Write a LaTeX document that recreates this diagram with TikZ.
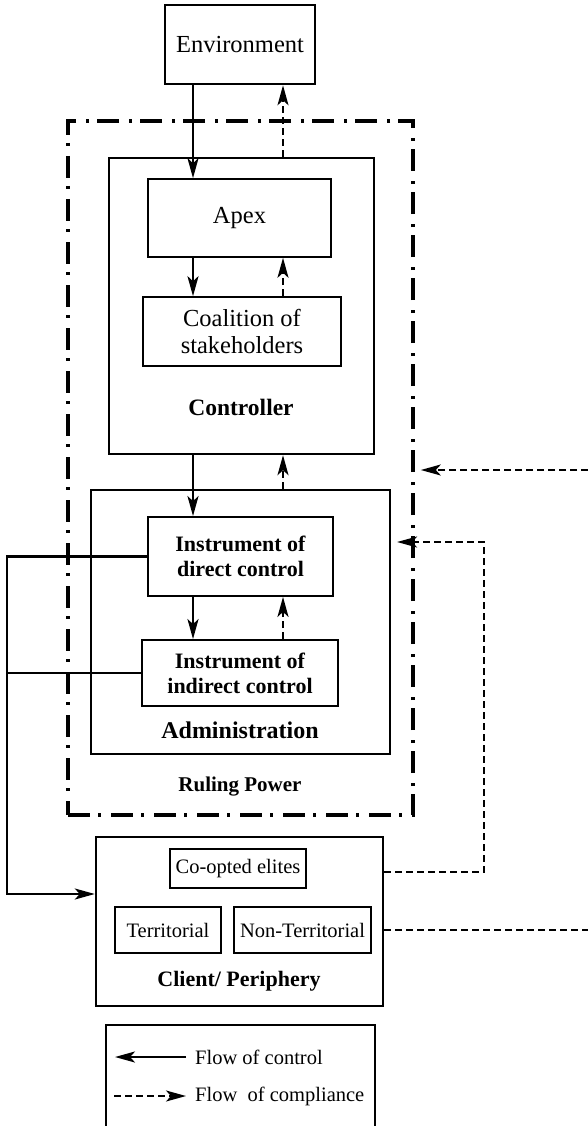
\documentclass[tikz,border=0pt]{standalone}
\usepackage{fontspec}
\setmainfont{Liberation Serif}
\usetikzlibrary{arrows.meta}
\begin{document}
\begin{tikzpicture}[x=1pt,y=-1pt,
  box/.style={draw,line width=1.6pt,inner sep=0pt,align=center},
  bigbox/.style={draw,line width=2.4pt,inner sep=0pt},
  dashdot/.style={draw,line width=3.6pt,dash pattern=on 22pt off 8pt on 3pt off 10pt,inner sep=0pt},
  lbl/.style={inner sep=0pt,font=\bfseries},
  ctrlflow/.style={line width=2.4pt,-{Stealth[length=20pt,width=11pt,inset=5pt]}},
  compflow/.style={line width=2pt,dash pattern=on 7pt off 4pt,-{Stealth[length=20pt,width=11pt,inset=5pt]}},
  plainline/.style={line width=2.4pt},
  bigtxt/.style={font=\fontsize{24.5}{27}\selectfont},
  smalltxt/.style={font=\fontsize{20.5}{23}\selectfont},
  boldtxt/.style={font=\fontsize{22}{25}\selectfont\bfseries}
]
\useasboundingbox (0,0) rectangle (588,1126);

% columns of the vertical flows
\coordinate (xl) at (193,0);
\coordinate (xr) at (283,0);

% outer frame and containers
\node[dashdot,minimum width=345pt,minimum height=694pt] (rp) at (240.5,468) {};
\node[bigbox,line width=2.6pt,minimum width=150pt,minimum height=79pt,bigtxt] (env) at (240,44.5) {Environment};
\node[bigbox,minimum width=265pt,minimum height=296pt] (ctrl) at (241.5,306) {};
\node[box,minimum width=183pt,minimum height=78pt,bigtxt] (apex) at (239.5,218) {Apex};
\node[box,minimum width=198pt,minimum height=69pt,bigtxt] (coal) at (242,331.5) {Coalition of\\stakeholders};
\node[lbl,font=\fontsize{23.5}{25}\selectfont\bfseries] (ctrllbl) at (241,407) {Controller};

\node[bigbox,line width=2.2pt,minimum width=299pt,minimum height=264pt] (admin) at (240.5,622) {};
\node[box,line width=1.8pt,minimum width=185pt,minimum height=79pt,boldtxt] (direct) at (240.5,556.5) {Instrument of\\direct control};
\node[box,line width=1.8pt,minimum width=196pt,minimum height=66pt,boldtxt] (indirect) at (240,673) {Instrument of\\indirect control};
\node[lbl,font=\fontsize{24}{26}\selectfont\bfseries] (adminlbl) at (240,730) {Administration};
\node[lbl,font=\fontsize{21}{24}\selectfont\bfseries] (rplbl) at (240,787) {Ruling Power};

\node[bigbox,minimum width=287pt,minimum height=169pt] (client) at (239.5,921.5) {};
\node[box,minimum width=136pt,minimum height=39pt,smalltxt] (coop) at (238,868.5) {Co-opted elites};
\node[box,minimum width=106pt,minimum height=46pt,smalltxt] (terr) at (168,930) {Territorial};
\node[box,minimum width=137pt,minimum height=46pt,smalltxt] (nonterr) at (302.5,930) {Non-Territorial};
\node[lbl,font=\fontsize{22}{24}\selectfont\bfseries] (clientlbl) at (239,981) {Client/ Periphery};

% vertical flows between levels
\draw[ctrlflow] (env.south -| xl) -- (apex.north -| xl);
\draw[compflow] (ctrl.north -| xr) -- (env.south -| xr);
\draw[ctrlflow] (apex.south -| xl) -- (coal.north -| xl);
\draw[compflow] (coal.north -| xr) -- (apex.south -| xr);
\draw[ctrlflow] (ctrl.south -| xl) -- (direct.north -| xl);
\draw[compflow] (admin.north -| xr) -- (ctrl.south -| xr);
\draw[ctrlflow] (direct.south -| xl) -- (indirect.north -| xl);
\draw[compflow] (indirect.north -| xr) -- (direct.south -| xr);

% control from the instruments down to the periphery
\coordinate (lft) at (7,894);
\draw[ctrlflow] (direct.west) -| (lft) -- (client.west |- lft);
\draw[plainline] (indirect.west) -- (indirect.west -| lft);

% compliance back from the periphery
\coordinate (cj) at (484,542);
\draw[compflow,shorten >=6pt] (client.east |- 0,872) -| (cj) -- (admin.east |- cj);
\coordinate (outA) at (588,930);
\coordinate (outB) at (588,470);
\draw[compflow,-] (client.east |- outA) -- (outA);
\draw[compflow,shorten >=6pt] (outB) -- (rp.east |- outB);

% legend
\coordinate (lgA) at (186,1057);
\coordinate (lgB) at (115,1057);
\coordinate (lgC) at (114,1096);
\coordinate (lgD) at (186,1096);
\draw[line width=2.4pt] (106,1130) |- (375,1025) -- (375,1130);
\draw[ctrlflow] (lgA) -- (lgB);
\draw[compflow] (lgC) -- (lgD);
\node[anchor=west,inner sep=0pt,smalltxt] (lgctrl) at (195,1057) {Flow of control};
\node[anchor=west,inner sep=0pt,smalltxt] (lgcomp) at (195,1096) {Flow\ \ of compliance};
\end{tikzpicture}
\end{document}
